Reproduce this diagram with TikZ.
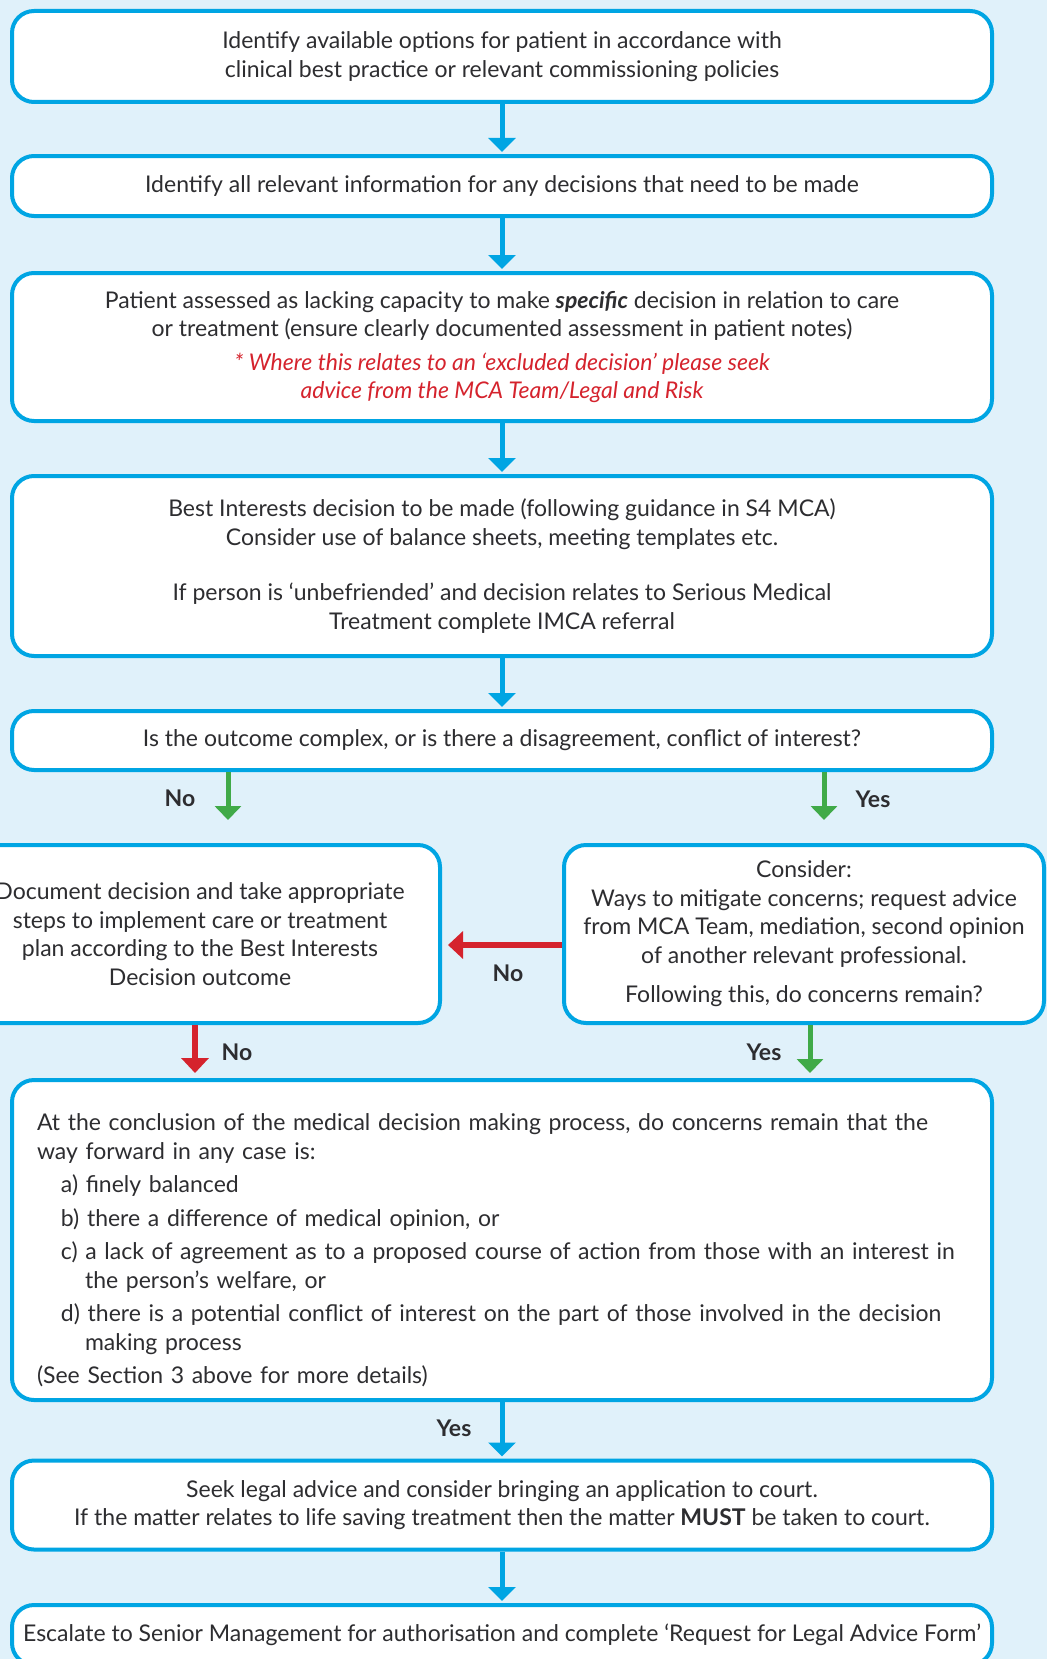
\documentclass[tikz,border=0pt]{standalone}
\usepackage{fontspec}
\setmainfont{Lato}
\usetikzlibrary{arrows.meta,positioning,calc}
\definecolor{McaBlue}{RGB}{0,165,227}
\definecolor{McaBg}{RGB}{224,241,250}
\definecolor{McaText}{RGB}{45,45,48}
\definecolor{McaRed}{RGB}{213,35,45}
\definecolor{McaGreen}{RGB}{64,170,72}
\newcommand{\mcafont}{\fontsize{23}{28.5}\selectfont}
\newcommand{\mcaitem}[2]{\hspace*{24pt}#1 #2}
\tikzset{
  mca/box/.style={
    draw=McaBlue,
    line width=4pt,
    rounded corners=22pt,
    fill=white,
    align=center,
    text=McaText,
    minimum width=980pt,
    inner sep=0pt,
    font=\mcafont
  },
  mca/sidebox/.style={mca/box, minimum width=480pt, minimum height=178pt},
  mca/arrow/.style={-{Triangle[length=14pt,width=27pt]}, line width=5pt, draw=McaBlue},
  mca/greenarrow/.style={-{Triangle[length=14pt,width=26pt]}, line width=5pt, draw=McaGreen},
  mca/redarrow/.style={-{Triangle[length=15pt,width=27pt]}, line width=6pt, draw=McaRed},
  mca/label/.style={font=\mcafont\bfseries, text=McaText, inner sep=0pt}
}
\begin{document}
\begin{tikzpicture}[x=1pt,y=-1pt]
  \fill[McaBg] (0,0) rectangle (1047,1659);
  \useasboundingbox (0,0) rectangle (1047,1659);

  \node[mca/box,minimum height=91pt] (options) at (502,56.5)
    {Identify available options for patient in accordance with\\
     clinical best practice or relevant commissioning policies};
  \node[mca/box,minimum height=60pt] (info) at (502,186)
    {Identify all relevant information for any decisions that need to be made};
  \node[mca/box,minimum height=148pt] (capacity) at (502,347)
    {Patient assessed as lacking capacity to make \textbf{\textit{specific}} decision in relation to care\\
     or treatment (ensure clearly documented assessment in patient notes)\\[5pt]
     \textcolor{McaRed}{\itshape * Where this relates to an ‘excluded decision’ please seek}\\
     \textcolor{McaRed}{\itshape advice from the MCA Team/Legal and Risk}};
  \node[mca/box,minimum height=180pt] (bestint) at (502,566)
    {Best Interests decision to be made (following guidance in S4 MCA)\\
     Consider use of balance sheets, meeting templates etc.\\[27pt]
     If person is ‘unbefriended’ and decision relates to Serious Medical\\
     Treatment complete IMCA referral};
  \node[mca/box,minimum height=59pt] (complex) at (502,740.5)
    {Is the outcome complex, or is there a disagreement, conflict of interest?};

  \node[mca/sidebox] (document) at (200,934)
    {Document decision and take appropriate\\
     steps to implement care or treatment\\
     plan according to the Best Interests\\
     Decision outcome};
  \node[mca/sidebox] (consider) at (804,934)
    {Consider:\\
     Ways to mitigate concerns; request advice\\
     from MCA Team, mediation, second opinion\\
     of another relevant professional.\\[11pt]
     Following this, do concerns remain?};

  \node[mca/box,minimum height=320pt,text width=930pt,align=left,inner xsep=25pt] (concl) at (502,1240)
    {\rule{0pt}{38pt}At the conclusion of the medical decision making process, do concerns remain that the\\
     way forward in any case is:\\[5pt]
     \mcaitem{a)}{finely balanced}\\[5pt]
     \mcaitem{b)}{there a difference of medical opinion, or}\\[5pt]
     \mcaitem{c)}{a lack of agreement as to a proposed course of action from those with an interest in}\\
     \hspace*{48pt}the person’s welfare, or\\[5pt]
     \mcaitem{d)}{there is a potential conflict of interest on the part of those involved in the decision}\\
     \hspace*{48pt}making process\\[5pt]
     (See Section 3 above for more details)};
  \node[mca/box,minimum height=89pt] (legal) at (502,1505)
    {Seek legal advice and consider bringing an application to court.\\
     If the matter relates to life saving treatment then the matter \textbf{MUST} be taken to court.};
  \node[mca/box,minimum height=60pt] (escalate) at (502,1635)
    {Escalate to Senior Management for authorisation and complete ‘Request for Legal Advice Form’};

  % main line
  \draw[mca/arrow,shorten >=2pt] (options) -- (info);
  \draw[mca/arrow,shorten >=2pt] (info) -- (capacity);
  \draw[mca/arrow,shorten >=2pt] (capacity) -- (bestint);
  \draw[mca/arrow,shorten >=2pt] (bestint) -- (complex);

  % no / yes split
  \draw[mca/greenarrow,shorten >=23pt] ([xshift=28pt]document.north |- complex.south) -- ([xshift=28pt]document.north);
  \draw[mca/greenarrow,shorten >=23pt] ([xshift=20pt]consider.north |- complex.south) -- ([xshift=20pt]consider.north);
  \draw[mca/redarrow,shorten >=6pt] ([yshift=-11pt]consider.west) -- ([yshift=-11pt]consider.west -| document.east);
  \draw[mca/redarrow,shorten >=5pt] ([xshift=-5pt]document.south) -- ([xshift=-5pt]document.south |- concl.north);
  \draw[mca/greenarrow,shorten >=5pt] ([xshift=6pt]consider.south) -- ([xshift=6pt]consider.south |- concl.north);

  \draw[mca/arrow,shorten >=2pt] (concl) -- (legal);
  \draw[mca/arrow,shorten >=2pt] (legal) -- (escalate);

  \node[mca/label] (nolabel) at (180,798) {No};
  \node[mca/label] (yeslabel) at (873,799) {Yes};
  \node[mca/label] (noback) at (508,973) {No};
  \node[mca/label] (nodown) at (237,1052) {No};
  \node[mca/label] (yesdown) at (764,1052) {Yes};
  \node[mca/label] (yescourt) at (454,1428) {Yes};
\end{tikzpicture}
\end{document}
